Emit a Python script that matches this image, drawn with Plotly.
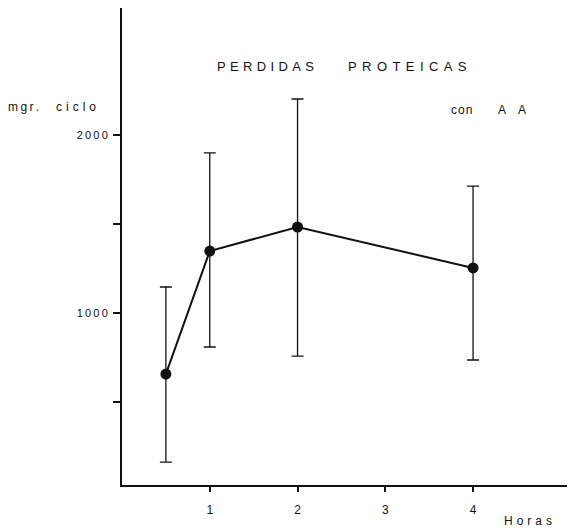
import plotly.graph_objects as go

# Pérdidas proteicas por ciclo (mg) a lo largo del tiempo, con AA
horas = [0.5, 1, 2, 4]
media = [657, 1348, 1483, 1253]
limite_sup = [1146, 1899, 2202, 1713]
limite_inf = [163, 809, 758, 736]

err_mas = [s - m for s, m in zip(limite_sup, media)]
err_menos = [m - i for m, i in zip(media, limite_inf)]

y_ticks = [500, 1000, 1500, 2000]
y_labels = ["", "1000", "", "2000"]
x_ticks = [1, 2, 3, 4]

FONT = "Liberation Sans, Arial, sans-serif"
W, H = 570, 531
ML, MR, MT, MB = 122, 3, 8, 46


def espaciar(txt, sep):
    return sep.join(list(txt))


def px_a_paper(px, py):
    pw = W - ML - MR
    ph = H - MT - MB
    return (px - ML) / pw, 1 - (py - MT) / ph


fig = go.Figure()
fig.add_trace(go.Scatter(
    x=horas, y=media,
    mode="lines+markers",
    line=dict(color="#111111", width=2),
    marker=dict(color="#111111", size=11),
    error_y=dict(type="data", symmetric=False, array=err_mas, arrayminus=err_menos,
                 color="#111111", thickness=1.3, width=6),
    showlegend=False,
))

# text blocks: (text, left x px, center y px, size)
textos = [
    (espaciar("PERDIDAS", "\u2004"), 215, 66, 13),
    (espaciar("PROTEICAS", "\u2004\u200a"), 346, 66, 13),
    (espaciar("con", "\u200a"), 449, 110, 12),
    ("A\u2003A", 496, 110, 12),
    (espaciar("mgr.", "\u2009"), 6, 107, 12),
    (espaciar("ciclo", "\u2004"), 54, 107, 12),
    (espaciar("Horas", "\u2004"), 502, 521, 12),
]

anots = []
for txt, x, y, s in textos:
    ax, ay = px_a_paper(x, y)
    anots.append(dict(text=txt, x=ax, y=ay, xref="paper", yref="paper",
                      showarrow=False, xanchor="left", yanchor="middle",
                      font=dict(size=s)))

fig.update_layout(
    width=W, height=H,
    margin=dict(l=ML, r=MR, t=MT, b=MB),
    paper_bgcolor="white", plot_bgcolor="white",
    font=dict(family=FONT, color="#111111"),
    xaxis=dict(range=[0, 5.07], showgrid=False, zeroline=False,
               showline=True, linecolor="#111111", linewidth=2,
               tickvals=x_ticks, ticks="outside", ticklen=5, tickwidth=1.5,
               tickcolor="#111111", tickfont=dict(size=12),
               ticklabelstandoff=8),
    yaxis=dict(range=[34, 2713], showgrid=False, zeroline=False,
               showline=True, linecolor="#111111", linewidth=2,
               tickvals=y_ticks,
               ticktext=[espaciar(t, "\u2009") for t in y_labels],
               ticks="outside", ticklen=7, tickwidth=1.5, tickcolor="#111111",
               tickfont=dict(size=11), ticklabelstandoff=3),
    annotations=anots,
)

fig.write_html("out.html")
